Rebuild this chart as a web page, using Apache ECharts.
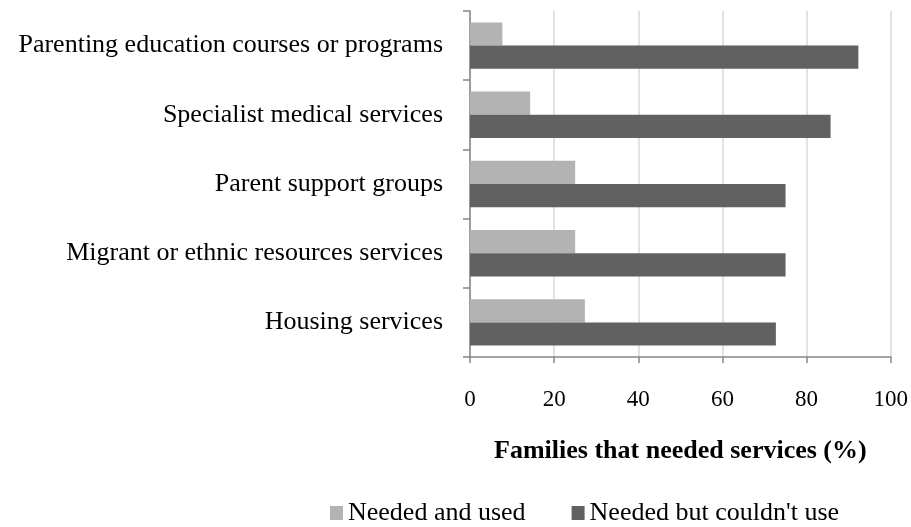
<!DOCTYPE html>
<html>
<head>
<meta charset="utf-8">
<script src="https://cdn.jsdelivr.net/npm/echarts@6/dist/echarts.min.js"></script>
<style>
  html, body { margin: 0; padding: 0; background: #fff; }
  #chart { width: 911px; height: 527px; }
</style>
</head>
<body>
<div id="chart"></div>
<script>
// Service categories, listed top to bottom
const categories = [
  'Parenting education courses or programs',
  'Specialist medical services',
  'Parent support groups',
  'Migrant or ethnic resources services',
  'Housing services'
];
const seriesNames = ['Needed and used', "Needed but couldn't use"];
const neededAndUsed = [7.7, 14.3, 25, 25, 27.3];
const neededNotUsed = [92.3, 85.7, 75, 75, 72.7];
const xTicks = [0, 20, 40, 60, 80, 100];

const FONT = '"Liberation Serif", "Times New Roman", serif';
const chart = echarts.init(document.getElementById('chart'));

chart.setOption({
  animation: false,
  textStyle: { fontFamily: FONT, color: '#000' },
  grid: { left: 470, right: 19, top: 11, bottom: 170, containLabel: false },
  legend: {
    data: seriesNames,
    top: 495,
    left: 325,
    itemWidth: 13,
    itemHeight: 14,
    itemGap: 46,
    icon: 'rect',
    textStyle: { fontFamily: FONT, fontSize: 26, color: '#000' }
  },
  xAxis: {
    type: 'value',
    min: xTicks[0],
    max: xTicks[xTicks.length - 1],
    interval: 20,
    name: 'Families that needed services (%)',
    nameLocation: 'middle',
    nameGap: 81,
    nameTextStyle: { fontFamily: FONT, fontSize: 26, fontWeight: 'bold', color: '#000' },
    axisLine: { show: true, lineStyle: { color: '#868686', width: 1.5 } },
    axisTick: { show: true, length: 6, lineStyle: { color: '#868686', width: 1.5 } },
    axisLabel: { fontFamily: FONT, fontSize: 23, color: '#000', margin: 31 },
    splitLine: { show: true, lineStyle: { color: '#d9d9d9', width: 1.5 } }
  },
  yAxis: {
    type: 'category',
    data: categories,
    inverse: true,
    axisLine: { show: true, lineStyle: { color: '#868686', width: 1.5 } },
    axisTick: { show: true, length: 7, lineStyle: { color: '#868686', width: 1.5 } },
    axisLabel: { fontFamily: FONT, fontSize: 26, color: '#000', margin: 27, padding: [5, 0, 0, 0] }
  },
  series: [
    {
      name: seriesNames[0],
      type: 'bar',
      data: neededAndUsed,
      barGap: '0%',
      barCategoryGap: '33%',
      itemStyle: { color: '#b3b3b3' }
    },
    {
      name: seriesNames[1],
      type: 'bar',
      data: neededNotUsed,
      barGap: '0%',
      barCategoryGap: '33%',
      itemStyle: { color: '#616161' }
    }
  ]
});
</script>
</body>
</html>
